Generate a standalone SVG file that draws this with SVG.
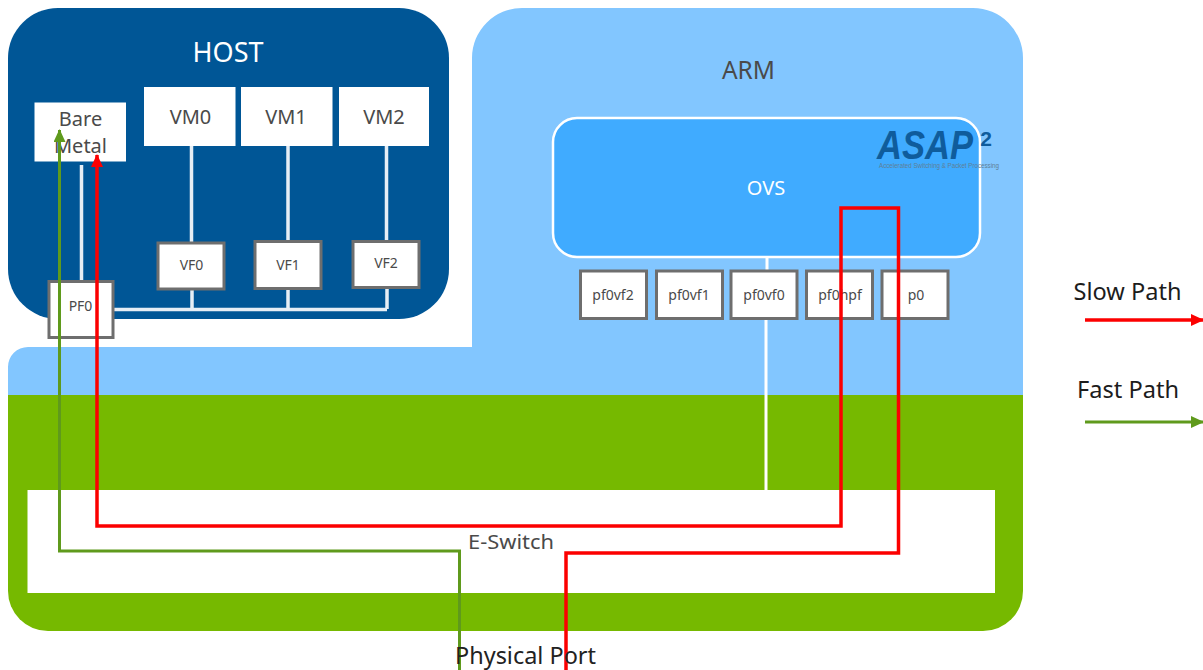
<svg xmlns="http://www.w3.org/2000/svg" width="1203" height="670" viewBox="0 0 1203 670">
<style>
text{font-family:"Noto Sans","Open Sans","DejaVu Sans",sans-serif;text-anchor:middle}
.box{fill:#fff}
.port{fill:#fff;stroke:#6e6e6e;stroke-width:3}
.lbl{font-size:20px;fill:#4a4a4a}
.sm{font-size:14px;fill:#4a4a4a}
.w{stroke:#e6eef5;stroke-width:3.5;fill:none}
.red{stroke:#fc0000;stroke-width:3.5;fill:none}
.grn{stroke:#5f9a1c;stroke-width:3;fill:none}
.leg{font-size:23px;fill:#1c1c1c}
</style>
<defs>
<marker id="ar" markerUnits="userSpaceOnUse" markerWidth="13" markerHeight="12" refX="12" refY="6" orient="auto"><path d="M0 0L13 6L0 12Z" fill="#fc0000"/></marker>
<marker id="ag" markerUnits="userSpaceOnUse" markerWidth="13" markerHeight="12" refX="12" refY="6" orient="auto"><path d="M0 0L13 6L0 12Z" fill="#5f9a1c"/></marker>
</defs>
<rect width="1203" height="670" fill="#fff"/>
<g id="arm">
<path d="M472 347V58A50 50 0 0 1 522 8H973A50 50 0 0 1 1023 58V400H8V367A20 20 0 0 1 28 347Z" fill="#82c6ff"/>
<text x="748.500" y="79" style="font-size:26px" fill="#4a4a4a" textLength="53" lengthAdjust="spacingAndGlyphs">ARM</text>
</g>
<g id="nic">
<path d="M8 395H1023V591A40 40 0 0 1 983 631H48A40 40 0 0 1 8 591Z" fill="#76b900"/>
</g>
<g id="e-switch">
<rect class="box" x="27.500" y="490" width="967.500" height="103"/>
<text class="lbl" x="511" y="549" textLength="86" lengthAdjust="spacingAndGlyphs">E-Switch</text>
</g>
<g id="host">
<rect x="8" y="8" width="441" height="311" rx="50" fill="#005696"/>
<text x="228" y="62" style="font-size:27px" fill="#fff">HOST</text>
</g>
<g id="connectors-white">
<path class="w" d="M81.500 165V281M191.500 146V243M288 146V241M386.500 146V241M192 290V309M288 290V309M387 288V309M114 309.500H387"/>
<path d="M767 257V271M766 319V490" stroke="#fff" stroke-width="3" fill="none"/>
</g>
<g id="bare-metal"><rect class="box" x="34.500" y="102.500" width="91.500" height="59"/><text class="lbl" x="80.500" y="126">Bare</text><text class="lbl" x="80.500" y="153">Metal</text></g>
<g id="vm0"><rect class="box" x="144" y="87" width="91.500" height="59"/><text class="lbl" x="190.500" y="124">VM0</text></g>
<g id="vm1"><rect class="box" x="241" y="87" width="91.500" height="59"/><text class="lbl" x="286" y="124">VM1</text></g>
<g id="vm2"><rect class="box" x="339" y="87" width="90" height="59"/><text class="lbl" x="384" y="124">VM2</text></g>
<g id="vf0"><rect class="port" x="158" y="243" width="66" height="46"/><text class="sm" x="191.500" y="270">VF0</text></g>
<g id="vf1"><rect class="port" x="255" y="241.500" width="66" height="47"/><text class="sm" x="288" y="270">VF1</text></g>
<g id="vf2"><rect class="port" x="353" y="241.500" width="66" height="46"/><text class="sm" x="386" y="268">VF2</text></g>
<g id="pf0"><rect class="port" x="49" y="281.500" width="64" height="56"/><text class="sm" x="80.500" y="311">PF0</text></g>
<g id="ovs"><rect x="553" y="118" width="427" height="139" rx="24" fill="#40abff" stroke="#fff" stroke-width="2.500"/><text x="766" y="195" style="font-size:20px" fill="#fff">OVS</text></g>
<g id="logo">
<text x="925" y="159" style="font-size:40px;font-weight:700;font-style:italic;font-family:'Liberation Sans',sans-serif" fill="#0f5c9c" textLength="96" lengthAdjust="spacingAndGlyphs">ASAP</text>
<text x="986" y="146" style="font-size:21px;font-weight:700;font-family:'Liberation Sans',sans-serif" fill="#0f5c9c">2</text>
<text x="939" y="168" style="font-size:6.500px;font-family:'Liberation Sans',sans-serif" fill="#5f7f96" textLength="120" lengthAdjust="spacingAndGlyphs">Accelerated Switching &amp; Packet Processing</text>
</g>
<g id="pf0vf2"><rect class="port" x="580.500" y="271" width="66" height="47.500"/><text class="sm" x="613" y="300">pf0vf2</text></g>
<g id="pf0vf1"><rect class="port" x="656.500" y="271" width="66" height="47.500"/><text class="sm" x="689" y="300">pf0vf1</text></g>
<g id="pf0vf0"><rect class="port" x="731" y="271" width="66" height="47.500"/><text class="sm" x="764" y="300">pf0vf0</text></g>
<g id="pf0hpf"><rect class="port" x="806.500" y="271" width="66" height="47.500"/><text class="sm" x="840" y="300">pf0hpf</text></g>
<g id="p0"><rect class="port" x="882" y="271" width="66" height="47.500"/><text class="sm" x="916" y="300">p0</text></g>
<g id="connectors">
<path class="red" d="M566 670V553H898.500V208H841V526H97V155" marker-end="url(#ar)"/>
<path class="grn" d="M459.500 670V551H59.500V130" marker-end="url(#ag)"/>
<path class="red" d="M1085 320H1203" marker-end="url(#ar)"/>
<path class="grn" d="M1085 422H1203" marker-end="url(#ag)"/>
</g>
<g id="legend">
<text class="leg" x="1127.500" y="300" textLength="108" lengthAdjust="spacingAndGlyphs">Slow Path</text>
<text class="leg" x="1128" y="398" textLength="102" lengthAdjust="spacingAndGlyphs">Fast Path</text>
</g>
<text x="525.500" y="664" style="font-size:23px" fill="#222" textLength="141" lengthAdjust="spacingAndGlyphs">Physical Port</text>
</svg>
